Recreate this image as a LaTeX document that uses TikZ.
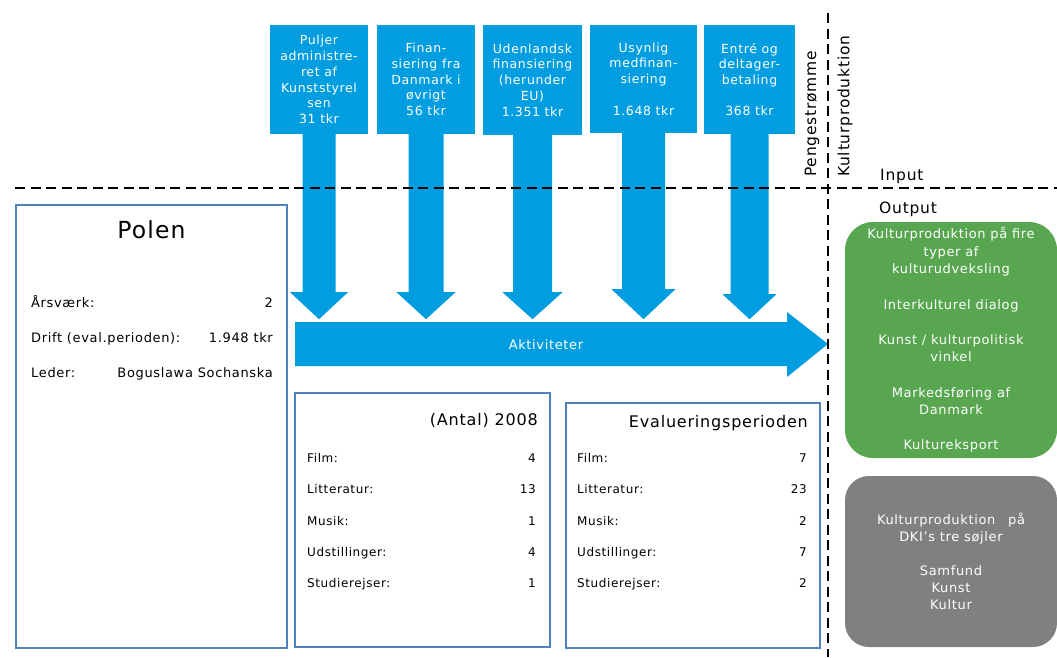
\documentclass[tikz,border=0pt]{standalone}
\usepackage{fontspec}
\setmainfont{DejaVu Sans}[LetterSpace=5]
\usetikzlibrary{calc}

\definecolor{flowblue}{RGB}{0,158,224}
\definecolor{panelblue}{RGB}{79,129,189}
\definecolor{outgreen}{RGB}{88,166,80}
\definecolor{outgray}{RGB}{128,128,128}

\newcommand\fsz[2]{\fontsize{#1}{#2}\selectfont}

\begin{document}
\begin{tikzpicture}[x=1pt,y=-1pt,
  srcbox/.style={fill=flowblue, text=white, align=center, inner sep=0pt,
    font=\fsz{12.5}{15.7}},
  flow/.style={fill=flowblue},
  panel/.style={draw=panelblue, line width=2.5pt, inner sep=0pt},
  rowtxt/.style={inner sep=0pt, font=\fsz{12}{14}},
  polenrow/.style={inner sep=0pt, font=\fsz{13}{15}},
  heading/.style={inner sep=0pt, font=\fsz{16}{19}},
  outbox/.style={text=white, align=center, inner sep=0pt, font=\fsz{13}{17.6}},
  divider/.style={draw=black, line width=2pt, dash pattern=on 10pt off 5.5pt},
  sidelabel/.style={inner sep=0pt, font=\fsz{15.5}{18}}
]
\useasboundingbox (0,0) rectangle (1057,657);

% money sources
\node[srcbox, minimum width=98pt, minimum height=109pt] (b1) at (319,79.5)
  {Puljer\\administre-\\ret af\\Kunststyrel\\sen\\31 tkr};
\node[srcbox, minimum width=98pt, minimum height=109pt] (b2) at (426,79.5)
  {Finan-\\siering fra\\Danmark i\\øvrigt\\56 tkr};
\node[srcbox, minimum width=99pt, minimum height=110pt] (b3) at (532.5,80)
  {Udenlandsk\\finansiering\\(herunder\\EU)\\1.351 tkr};
\node[srcbox, minimum width=107pt, minimum height=108pt] (b4) at (643.5,79)
  {Usynlig\\medfinan-\\siering\\[15.7pt]1.648 tkr};
\node[srcbox, minimum width=91pt, minimum height=109pt] (b5) at (749.5,79.5)
  {Entré og\\deltager-\\betaling\\[15.7pt]368 tkr};

% block arrows from each source down to the activities
\foreach \i/\sw/\hw/\L/\H in {1/16.5/29/158/27, 2/17.5/29.5/158/27,
    3/19.5/30/157/27, 4/21.5/32/156/30, 5/19/27/160/25}{
  \fill[flow] (b\i.south) ++(-\sw,0) -- ++(0,\L) -- ++({\sw-\hw},0)
    -- ++(\hw,\H) coordinate (tip\i) -- ++(\hw,-\H) -- ++({\sw-\hw},0)
    -- ++(0,-\L) -- cycle;
}

% activities arrow
\fill[flow] (295,322) -- (787,322) -- (787,312) -- (828,344) coordinate (acttip)
  -- (787,377) -- (787,366) -- (295,366) -- cycle;
\node[inner sep=0pt, text=white, font=\fsz{13}{15}] (act) at (546,345) {Aktiviteter};

% dividers
\draw[divider] (15,188) -- (1057,188);
\draw[divider] (828,13) -- (828,657);

\node[sidelabel, rotate=90, anchor=west] (peng) at (812,177) {Pengestrømme};
\node[sidelabel, rotate=90, anchor=west] (kprod) at (845,177) {Kulturproduktion};
\node[sidelabel, anchor=base west] (inp) at (880,180) {Input};
\node[sidelabel, anchor=base west] (outp) at (879,213) {Output};

% country panel
\node[panel, minimum width=271pt, minimum height=443pt] (polen) at (151.5,426.5) {};
\node[inner sep=0pt, font=\fsz{23.5}{28}, anchor=base] (ptitle) at (151.5,238) {Polen};
\node[polenrow, anchor=base west] (r1) at (31,307) {Årsværk:};
\node[polenrow, anchor=base east] (v1) at (273,307) {2};
\node[polenrow, anchor=base west] (r2) at (31,342) {Drift (eval.perioden):};
\node[polenrow, anchor=base east] (v2) at (273,342) {1.948 tkr};
\node[polenrow, anchor=base west] (r3) at (31,377) {Leder:};
\node[polenrow, anchor=base east] (v3) at (273,377) {Boguslawa Sochanska};

% activity counts 2008
\node[panel, minimum width=255pt, minimum height=254pt] (tab1) at (422.5,520) {};
\node[heading, anchor=base east] (t1) at (538,425) {(Antal) 2008};
\foreach \lab/\val [count=\k] in {Film:/4, Litteratur:/13, Musik:/1,
    Udstillinger:/4, Studierejser:/1}{
  \node[rowtxt, anchor=base west] (al\k) at (307,{462.5+31.25*(\k-1)}) {\lab};
  \node[rowtxt, anchor=base east] (av\k) at (536,{462.5+31.25*(\k-1)}) {\val};
}

% activity counts for the whole period
\node[panel, minimum width=254pt, minimum height=245pt] (tab2) at (693,525.5) {};
\node[heading, anchor=base east] (t2) at (808,427) {Evalueringsperioden};
\foreach \lab/\val [count=\k] in {Film:/7, Litteratur:/23, Musik:/2,
    Udstillinger:/7, Studierejser:/2}{
  \node[rowtxt, anchor=base west] (bl\k) at (577,{462.5+31.25*(\k-1)}) {\lab};
  \node[rowtxt, anchor=base east] (bv\k) at (807,{462.5+31.25*(\k-1)}) {\val};
}

% outputs
\node[outbox, fill=outgreen, rounded corners=28pt, minimum width=212pt,
  minimum height=236pt] (green) at (951,340)
  {Kulturproduktion på fire\\typer af\\kulturudveksling\\[17.6pt]Interkulturel dialog\\[17.6pt]Kunst / kulturpolitisk\\vinkel\\[17.6pt]Markedsføring af\\Danmark\\[17.6pt]Kultureksport};
\node[outbox, fill=outgray, rounded corners=24pt, minimum width=212pt,
  minimum height=171pt, font=\fsz{13}{17}] (gray) at (951,561.5)
  {Kulturproduktion\hspace{8pt} på\\DKI’s tre søjler\\[17pt]Samfund\\Kunst\\Kultur};
\end{tikzpicture}
\end{document}
